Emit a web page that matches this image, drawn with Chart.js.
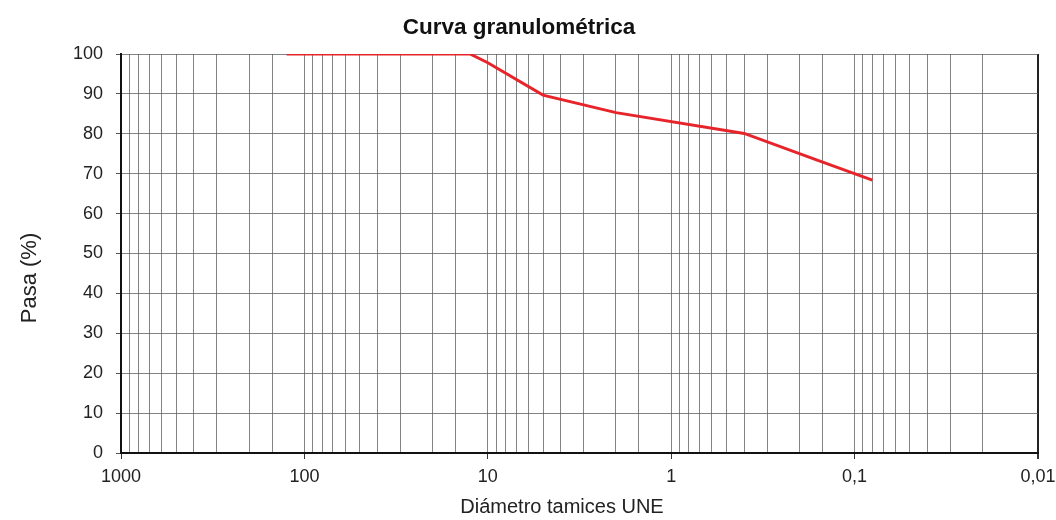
<!DOCTYPE html>
<html>
<head>
<meta charset="utf-8">
<script src="https://cdn.jsdelivr.net/npm/chart.js@4.4.1/dist/chart.umd.min.js"></script>
<style>
  html, body { margin: 0; padding: 0; background: #fff; }
  #wrap { width: 1056px; height: 520px; }
</style>
</head>
<body>
<div id="wrap"><canvas id="c" width="1056" height="520"></canvas></div>
<script>
const sieveSizes = [125, 12.5, 10, 5, 2, 0.4, 0.16, 0.08];
const passingPct = [100, 100, 97.8, 89.7, 85.3, 80.1, 73.4, 68.4];
const majorTicks = [1000, 100, 10, 1, 0.1, 0.01];
const majorLabels = ['1000', '100', '10', '1', '0,1', '0,01'];
const chartTitle = 'Curva granulométrica';
const xTitle = 'Diámetro tamices UNE';
const yTitle = 'Pasa (%)';

const FONT = "'Liberation Sans', Arial, sans-serif";

function majorIndex(v) {
  for (let i = 0; i < majorTicks.length; i++) {
    if (Math.abs(Math.log10(v) - Math.log10(majorTicks[i])) < 1e-6) return i;
  }
  return -1;
}

const points = sieveSizes.map((s, i) => ({ x: s, y: passingPct[i] }));

const axisTitles = {
  id: 'axisTitles',
  afterDraw(chart) {
    const ctx = chart.ctx;
    ctx.save();
    ctx.fillStyle = '#222';
    ctx.textAlign = 'center';
    ctx.textBaseline = 'middle';
    ctx.font = "20px " + FONT;
    ctx.fillText(xTitle, 562, 507);
    ctx.translate(30, 278);
    ctx.rotate(-Math.PI / 2);
    ctx.font = "22px " + FONT;
    ctx.fillText(yTitle, 0, 0);
    ctx.restore();
  }
};

new Chart(document.getElementById('c'), {
  type: 'line',
  data: {
    datasets: [{
      data: points,
      borderColor: '#e8242b',
      borderWidth: 3,
      pointRadius: 0,
      fill: false,
      tension: 0
    }]
  },
  plugins: [axisTitles],
  options: {
    responsive: false,
    animation: false,
    devicePixelRatio: 1,
    layout: { padding: { left: 0, right: 18, top: 0, bottom: 0 } },
    plugins: {
      legend: { display: false },
      tooltip: { enabled: false },
      title: {
        display: true,
        text: chartTitle,
        color: '#111',
        font: { family: FONT, size: 22.5, weight: 'bold' },
        padding: { top: 14, bottom: 13 }
      }
    },
    scales: {
      x: {
        type: 'logarithmic',
        reverse: true,
        min: 0.01,
        max: 1000,
        afterFit: (s) => { s.height = 67; s.paddingLeft = 0; s.paddingRight = 0; },
        border: { display: true, color: '#111', width: 2 },
        grid: {
          color: (ctx) => {
            const v = ctx.tick ? ctx.tick.value : 0;
            if (majorIndex(v) === 5) return '#222';
            return 'rgba(90,90,90,0.75)';
          },
          lineWidth: (ctx) => {
            const v = ctx.tick ? ctx.tick.value : 0;
            return majorIndex(v) === 5 ? 2 : 1;
          },
          tickLength: 6,
          tickColor: (ctx) => {
            const v = ctx.tick ? ctx.tick.value : 0;
            return majorIndex(v) >= 0 ? '#333' : 'rgba(0,0,0,0)';
          },
          drawTicks: true
        },
        ticks: {
          autoSkip: false,
          maxRotation: 0,
          minRotation: 0,
          padding: 7,
          color: '#222',
          font: { family: FONT, size: 18 },
          callback: (value) => {
            const i = majorIndex(value);
            return i >= 0 ? majorLabels[i] : '';
          }
        },
        title: { display: false }
      },
      y: {
        type: 'linear',
        min: 0,
        max: 100,
        afterFit: (s) => { s.width = 121; },
        border: { display: true, color: '#111', width: 2 },
        grid: {
          color: 'rgba(90,90,90,0.75)',
          lineWidth: 1,
          tickLength: 5,
          tickColor: '#555'
        },
        ticks: {
          stepSize: 10,
          padding: 13,
          color: '#222',
          font: { family: FONT, size: 18 }
        },
        title: { display: false }
      }
    }
  }
});
</script>
</body>
</html>
